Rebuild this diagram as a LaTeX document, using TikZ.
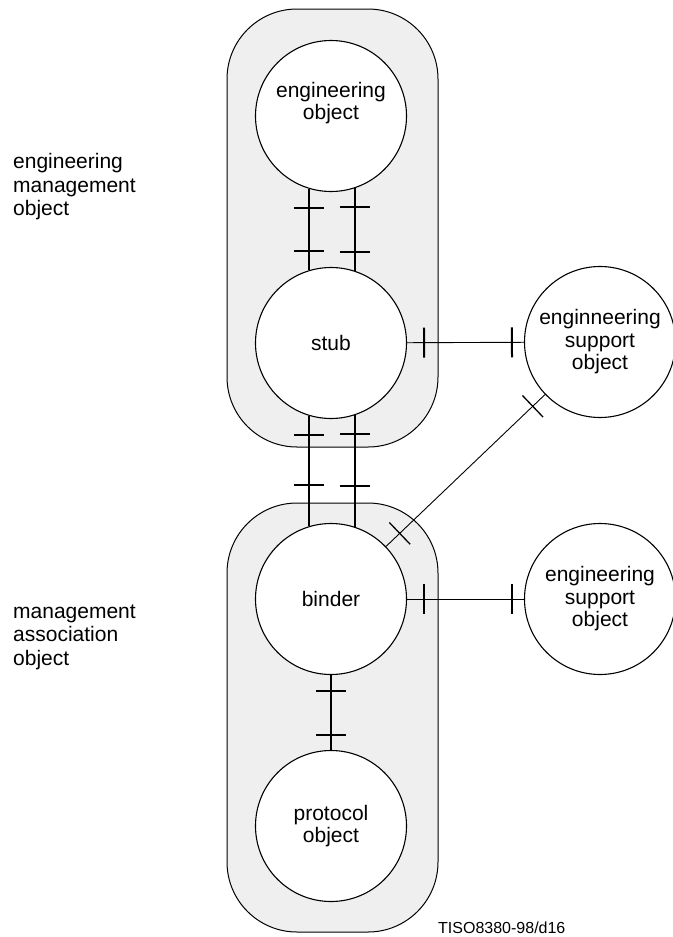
\documentclass[tikz,border=0pt]{standalone}
\usepackage{fontspec}
\setmainfont{Liberation Sans}
\usetikzlibrary{decorations.markings}
\definecolor{boxgray}{HTML}{EFEFEF}
\tikzset{
  circ/.style={draw, line width=1.1pt, fill=white, circle, minimum size=151pt, inner sep=0pt, align=center, font=\fontsize{21}{22.5}\selectfont},
  grp/.style={draw, line width=1pt, fill=boxgray, rounded corners=70pt},
  lbl/.style={align=left, inner sep=0pt, font=\fontsize{21}{23.5}\selectfont},
  thickconn/.style={line width=2pt},
  thinconn/.style={line width=0.9pt},
  tickat/.style={postaction={decorate, decoration={markings, mark=at position #1 with {\draw[line width=2pt] (0pt,-15pt) -- (0pt,15pt);}}}},
  thintickat/.style={postaction={decorate, decoration={markings, mark=at position #1 with {\draw[line width=1.3pt] (0pt,-15pt) -- (0pt,15pt);}}}}
}
\begin{document}
\begin{tikzpicture}[x=1pt,y=-1pt]
\useasboundingbox (0,0) rectangle (672,937);
% group boxes
\draw[grp] (227,9) rectangle (438,447);
\draw[grp] (227,503) rectangle (438,932);
% circles
\node[circ] (eo) at (331,116) {};
\node[inner sep=0pt, align=center, font=\fontsize{21}{22.5}\selectfont] (eotext) at (331,103) {engineering\\object};
\node[circ] (stub) at (331,343) {stub};
\node[circ] (binder) at (331,599) {binder};
\node[circ] (proto) at (331,826) {protocol\\object};
\node[circ] (sup1) at (600,342) {enginneering\\support\\object};
\node[circ] (sup2) at (600,599) {engineering\\support\\object};
% connectors eo - stub
\draw[thickconn, tickat=19pt, tickat=-19pt] (eo.-107.8) -- (stub.107.8);
\draw[thickconn, tickat=19pt, tickat=-19pt] (eo.-72.2) -- (stub.72.2);
% stub - binder
\draw[thickconn, tickat=19pt, tickat=-41pt] (stub.-107.8) -- (binder.107.8);
\draw[thickconn, tickat=19pt, tickat=-41pt] (stub.-72.2) -- (binder.72.2);
% binder - protocol
\draw[thickconn, tickat=16pt, tickat=-15pt] (binder) -- (proto);
% horizontal to support objects
\draw[thinconn, tickat=17pt, tickat=-12pt] (stub) -- (sup1);
\draw[thinconn, tickat=17pt, tickat=-12pt] (binder) -- (sup2);
% diagonal
\draw[thinconn, thintickat=19pt, thintickat=-17pt] (binder) -- (sup1);
% labels
\node[lbl, anchor=west] (l1) at (13,187) {engineering\\management\\object};
\node[lbl, anchor=west] (l2) at (13,637) {management\\association\\object};
\node[anchor=base west, inner sep=0pt, font=\fontsize{16}{18}\selectfont] (cap) at (438,933) {TISO8380-98/d16};
\end{tikzpicture}
\end{document}
